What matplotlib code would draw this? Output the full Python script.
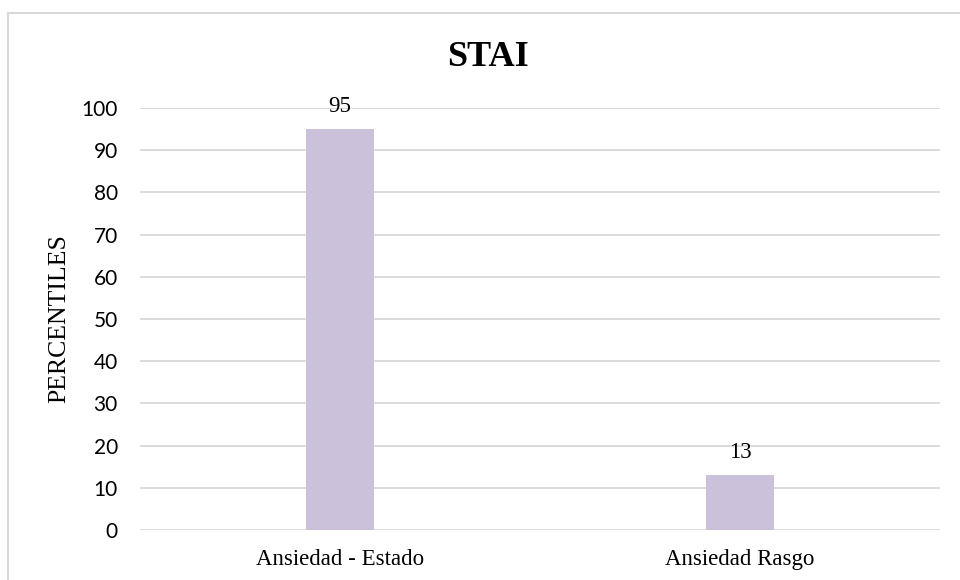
import matplotlib.pyplot as plt
from matplotlib.lines import Line2D

# datos
categorias = ["Ansiedad - Estado", "Ansiedad Rasgo"]
percentiles = [95, 13]
yticks = [0, 10, 20, 30, 40, 50, 60, 70, 80, 90, 100]

color_barra = "#CCC1DA"
color_grid = "#D9D9D9"

fig = plt.figure(figsize=(9.6, 5.8), dpi=100)
ax = fig.add_axes([140/960, 50/580, 800/960, 422/580])

x = range(len(categorias))
barras = ax.bar(x, percentiles, width=0.168, color=color_barra, zorder=2)

ax.set_xlim(-0.5, len(categorias) - 0.5)
ax.set_ylim(0, 100)
ax.set_yticks(yticks)
ax.set_yticklabels([str(v) for v in yticks], family="Lato", fontsize=15)
ax.set_xticks(list(x))
ax.set_xticklabels(categorias, family="Liberation Serif", fontsize=16.5)
ax.tick_params(axis="y", length=0, pad=16)
ax.tick_params(axis="x", length=0, pad=14)

ax.grid(axis="y", color=color_grid, linewidth=1.3, zorder=0)
for s in ax.spines.values():
    s.set_visible(False)

for xi, v in zip(x, percentiles):
    ax.annotate(str(v), (xi, v), xytext=(0, 9), textcoords="offset points",
                ha="center", va="bottom", family="Liberation Serif", fontsize=16.5)

ax.set_ylabel("PERCENTILES", family="Liberation Serif", fontsize=18.5)
ax.yaxis.set_label_coords(-70/800, 0.5)

fig.text(488/960, 1 - 57/580, "STAI", ha="center", va="center",
         family="Liberation Serif", fontweight="bold", fontsize=26)

# borde del grafico
fig.add_artist(Line2D([8/960, 8/960], [0, 1 - 13/580], color=color_grid, linewidth=1.5))
fig.add_artist(Line2D([8/960, 1], [1 - 13/580, 1 - 13/580], color=color_grid, linewidth=1.5))

plt.savefig("out.png", dpi=100)
